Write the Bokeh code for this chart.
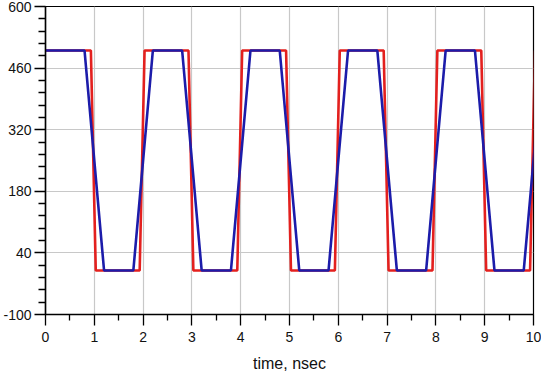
from bokeh.plotting import figure
from bokeh.models import Range1d, FixedTicker
from bokeh.embed import file_html
from bokeh.resources import INLINE

# time (ns) and voltage values
red_t = [0, 0.93, 1.03, 1.93, 2.03, 2.93, 3.03, 3.93, 4.03, 4.93, 5.03,
         5.93, 6.03, 6.93, 7.03, 7.93, 8.03, 8.93, 9.03, 9.93, 10.03]
red_v = [500, 500, 0, 0, 500, 500, 0, 0, 500, 500, 0,
         0, 500, 500, 0, 0, 500, 500, 0, 0, 500]
blue_t = [0, 0.8, 1.2, 1.8, 2.2, 2.8, 3.2, 3.8, 4.2, 4.8, 5.2,
          5.8, 6.2, 6.8, 7.2, 7.8, 8.2, 8.8, 9.2, 9.8, 10.2]
blue_v = [500, 500, 0, 0, 500, 500, 0, 0, 500, 500, 0,
          0, 500, 500, 0, 0, 500, 500, 0, 0, 500]

x_ticks = [0, 1, 2, 3, 4, 5, 6, 7, 8, 9, 10]
x_minor = [0.5, 1.5, 2.5, 3.5, 4.5, 5.5, 6.5, 7.5, 8.5, 9.5]
y_ticks = [-100, 40, 180, 320, 460, 600]
y_minor = [-72, -44, -16, 12, 68, 96, 124, 152, 208, 236, 264, 292,
           348, 376, 404, 432, 488, 516, 544, 572]

p = figure(frame_width=488, frame_height=308, output_backend="svg",
           toolbar_location=None,
           x_range=Range1d(0, 10), y_range=Range1d(-100, 600),
           min_border_left=42, min_border_right=8, min_border_top=6,
           min_border_bottom=62)
p.background_fill_color = "white"
p.border_fill_color = "white"
p.outline_line_color = "black"
p.outline_line_width = 1.2

p.line(red_t, red_v, line_color="#e3201e", line_width=2.6)
p.line(blue_t, blue_v, line_color="#1c1caa", line_width=2.6)

font = "Liberation Sans"
p.xaxis.ticker = FixedTicker(ticks=x_ticks, minor_ticks=x_minor)
p.yaxis.ticker = FixedTicker(ticks=y_ticks, minor_ticks=y_minor)
p.yaxis.major_label_overrides = {t: str(t) for t in y_ticks}

for ax in (p.xaxis[0], p.yaxis[0]):
    ax.axis_line_color = "black"
    ax.axis_line_width = 1.5
    ax.major_tick_line_color = "black"
    ax.major_tick_line_width = 1.3
    ax.minor_tick_line_color = "black"
    ax.minor_tick_line_width = 1.3
    ax.major_tick_in = 0
    ax.minor_tick_in = 0
    ax.major_label_text_font = font
    ax.major_label_text_font_size = "14px"
    ax.major_label_text_color = "#111111"

p.yaxis.major_tick_out = 11
p.yaxis.minor_tick_out = 7
p.yaxis.major_label_standoff = 3
p.xaxis.major_tick_out = 11
p.xaxis.minor_tick_out = 6
p.xaxis.major_label_standoff = 6

p.xaxis.axis_label = "time, nsec"
p.xaxis.axis_label_text_font = font
p.xaxis.axis_label_text_font_size = "16px"
p.xaxis.axis_label_text_font_style = "normal"
p.xaxis.axis_label_text_color = "#111111"
p.xaxis.axis_label_standoff = 10

p.xgrid.grid_line_color = "#c8c8c8"
p.ygrid.grid_line_color = "#c8c8c8"
p.xgrid.grid_line_width = 1.2
p.ygrid.grid_line_width = 1.2

open("out.html", "w").write(file_html(p, INLINE))
